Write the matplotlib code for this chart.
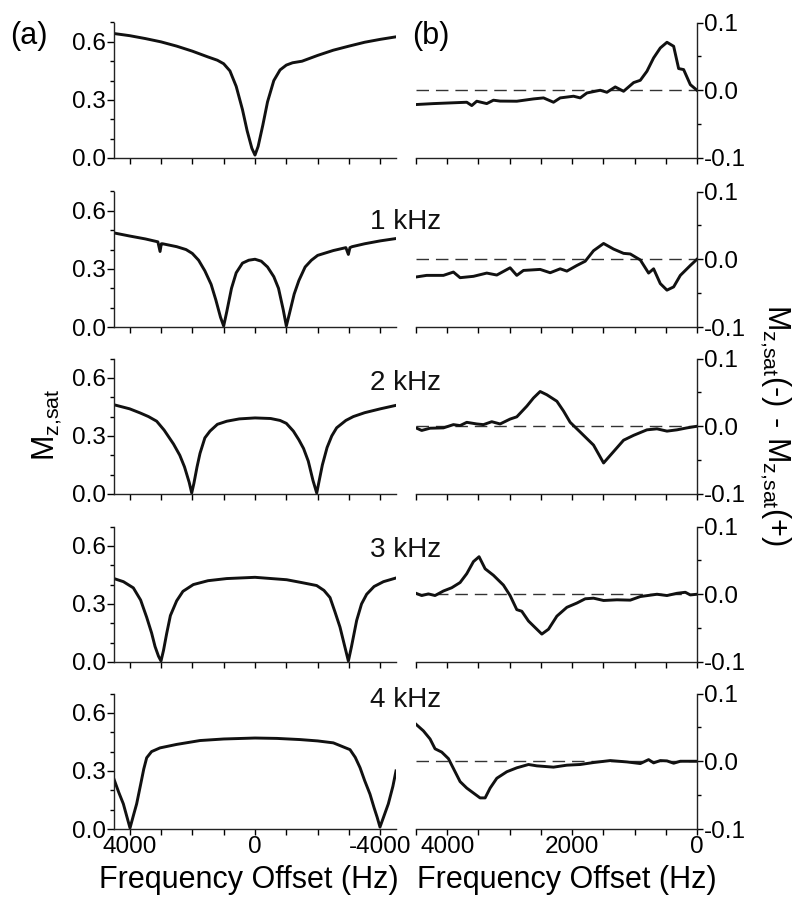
import matplotlib
matplotlib.use("Agg")
import matplotlib.pyplot as plt
from matplotlib.ticker import MultipleLocator, FixedLocator, FixedFormatter

plt.rcParams['font.family'] = ['Liberation Sans', 'DejaVu Sans']
plt.rcParams['mathtext.fontset'] = 'custom'
plt.rcParams['mathtext.rm'] = 'Liberation Sans'
plt.rcParams['axes.unicode_minus'] = False

# ---------------- data: panel (a) saturation spectra ----------------
a0_x = [4500, 4000, 3500, 3000, 2500, 2000, 1500, 1200, 1000, 800, 600, 400, 250, 100, 0,
        -100, -250, -400, -600, -800, -1000, -1200, -1500, -2000, -2500, -3000, -3500, -4000, -4500]
a0_y = [0.643, 0.632, 0.617, 0.600, 0.578, 0.552, 0.522, 0.505, 0.487, 0.450, 0.37, 0.25, 0.14, 0.05, 0.015,
        0.06, 0.17, 0.29, 0.40, 0.455, 0.48, 0.492, 0.50, 0.53, 0.557, 0.578, 0.598, 0.613, 0.626]

a1_x = [4500, 4000, 3500, 3100, 3030, 2990, 2950, 2500, 2200, 2000, 1800, 1600, 1400, 1250, 1100, 1000,
        900, 750, 600, 400, 200, 0, -200, -400, -600, -750, -900, -1000, -1100, -1250, -1400, -1600,
        -1800, -2000, -2500, -2900, -2980, -3030, -3100, -3500, -4000, -4500]
a1_y = [0.486, 0.47, 0.455, 0.44, 0.39, 0.43, 0.43, 0.415, 0.40, 0.38, 0.345, 0.29, 0.22, 0.14, 0.05, 0.005,
        0.08, 0.20, 0.28, 0.33, 0.345, 0.35, 0.34, 0.31, 0.26, 0.20, 0.09, 0.005, 0.07, 0.17, 0.24, 0.31,
        0.345, 0.37, 0.395, 0.41, 0.375, 0.41, 0.415, 0.43, 0.445, 0.457]

a2_x = [4500, 4000, 3670, 3400, 3138, 2900, 2600, 2400, 2250, 2100, 2020, 1950, 1850, 1755, 1600, 1436,
        1200, 900, 500, 0, -500, -800, -1000, -1224, -1400, -1550, -1700, -1850, -1970, -2050, -2150,
        -2300, -2450, -2606, -2900, -3138, -3500, -4000, -4500]
a2_y = [0.461, 0.44, 0.419, 0.40, 0.376, 0.33, 0.258, 0.20, 0.14, 0.06, 0.005, 0.055, 0.14, 0.21, 0.29, 0.325,
        0.36, 0.376, 0.388, 0.393, 0.39, 0.38, 0.365, 0.325, 0.28, 0.235, 0.17, 0.07, 0.005, 0.07, 0.15,
        0.24, 0.30, 0.342, 0.38, 0.40, 0.42, 0.44, 0.458]

a3_x = [4500, 4200, 3883, 3650, 3457, 3300, 3190, 3080, 3000, 2920, 2819, 2700, 2500, 2300, 1968, 1500,
        904, 0, -1011, -1500, -1968, -2200, -2394, -2550, -2713, -2850, -2980, -3080, -3245, -3400,
        -3564, -3800, -4100, -4500]
a3_y = [0.431, 0.415, 0.383, 0.32, 0.231, 0.15, 0.08, 0.03, 0.005, 0.06, 0.147, 0.24, 0.316, 0.365, 0.40, 0.42,
        0.431, 0.4375, 0.425, 0.41, 0.395, 0.37, 0.333, 0.26, 0.18, 0.09, 0.005, 0.08, 0.215, 0.30,
        0.35, 0.39, 0.415, 0.434]

a4_x = [4500, 4350, 4202, 4100, 3989, 3880, 3777, 3650, 3550, 3457, 3300, 3032, 2500, 1755, 1000, 0,
        -700, -1437, -2000, -2500, -3032, -3200, -3352, -3500, -3670, -3800, -3900, -3989, -4100,
        -4255, -4400, -4500]
a4_y = [0.257, 0.19, 0.13, 0.07, 0.005, 0.07, 0.13, 0.23, 0.31, 0.368, 0.40, 0.419, 0.437, 0.457, 0.465, 0.47,
        0.468, 0.462, 0.455, 0.445, 0.41, 0.37, 0.317, 0.25, 0.18, 0.11, 0.06, 0.01, 0.06,
        0.13, 0.22, 0.30]

# ---------------- data: panel (b) asymmetry curves ----------------
b0_x = [4500, 4222, 3955, 3687, 3607, 3527, 3367, 3260, 3153, 2886, 2619, 2458, 2298, 2191, 1977, 1870,
        1763, 1550, 1443, 1309, 1176, 1015, 908, 802, 695, 588, 481, 374, 294, 214, 107, 0]
b0_y = [-0.0211, -0.0197, -0.0187, -0.0177, -0.0226, -0.0162, -0.0197, -0.0147, -0.016, -0.0162, -0.0128,
        -0.0113, -0.0177, -0.0113, -0.0088, -0.0113, -0.004, 0.0, -0.003, 0.0049, -0.0015, 0.0113, 0.0147,
        0.028, 0.0477, 0.0624, 0.0708, 0.0649, 0.032, 0.0305, 0.0083, 0.0]

b1_x = [4500, 4329, 4061, 3901, 3794, 3580, 3367, 3206, 2993, 2886, 2779, 2512, 2351, 2191, 2084, 1924,
        1790, 1657, 1496, 1336, 1176, 1069, 908, 775, 695, 588, 481, 374, 267, 107, 0]
b1_y = [-0.0262, -0.0238, -0.0238, -0.0189, -0.0272, -0.0252, -0.0204, -0.0233, -0.0126, -0.0238, -0.0165,
        -0.015, -0.0199, -0.0141, -0.0175, -0.0092, -0.0029, 0.0126, 0.0233, 0.015, 0.0087, 0.0078, -0.001,
        -0.0204, -0.0141, -0.0359, -0.0456, -0.0408, -0.0238, -0.0092, 0.0]

b2_x = [4500, 4409, 4275, 4061, 3901, 3794, 3687, 3527, 3420, 3287, 3153, 2993, 2886, 2725, 2619, 2512,
        2405, 2244, 2138, 2031, 1870, 1657, 1496, 1336, 1176, 1015, 802, 641, 481, 321, 160, 0]
b2_y = [-0.0024, -0.0062, -0.0029, -0.0024, 0.0024, 0.001, 0.0058, 0.0034, 0.0024, 0.0067, 0.0034, 0.0106,
        0.0139, 0.0297, 0.0417, 0.0513, 0.0465, 0.0369, 0.0225, 0.0058, -0.0086, -0.0278, -0.0542, -0.0374,
        -0.0206, -0.0134, -0.0053, -0.0038, -0.0072, -0.0053, -0.0024, 0.0]

b3_x = [4500, 4409, 4302, 4195, 4061, 3928, 3794, 3687, 3580, 3490, 3393, 3260, 3100, 2993, 2886, 2806,
        2699, 2592, 2485, 2378, 2244, 2084, 1924, 1790, 1657, 1496, 1283, 1069, 908, 641, 481, 321, 187,
        107, 0]
b3_y = [0.0014, -0.0019, 0.0005, -0.0019, 0.0048, 0.0096, 0.0173, 0.0304, 0.0482, 0.0554, 0.0376, 0.028,
        0.0135, -0.0019, -0.0227, -0.0251, -0.0395, -0.0492, -0.0588, -0.0516, -0.0323, -0.0193, -0.013,
        -0.0067, -0.0058, -0.0092, -0.0082, -0.0087, -0.0034, 0.0, -0.0019, 0.0014, 0.0029, -0.001, 0.0]

b4_x = [4500, 4382, 4275, 4195, 4088, 3981, 3901, 3794, 3687, 3580, 3474, 3393, 3313, 3206, 3046, 2886,
        2699, 2565, 2298, 2084, 1870, 1657, 1389, 1122, 908, 775, 695, 588, 481, 374, 267, 0]
b4_y = [0.0546, 0.0449, 0.0329, 0.0184, 0.0135, 0.0039, -0.0106, -0.03, -0.0396, -0.0469, -0.0541, -0.0541,
        -0.0396, -0.0251, -0.0155, -0.0097, -0.0048, -0.0068, -0.0087, -0.0058, -0.0048, -0.0019, 0.001,
        -0.001, -0.0034, 0.0024, -0.0024, 0.001, 0.0005, -0.0029, 0.0, 0.0]

a_x = [a0_x, a1_x, a2_x, a3_x, a4_x]
a_y = [a0_y, a1_y, a2_y, a3_y, a4_y]
b_x = [b0_x, b1_x, b2_x, b3_x, b4_x]
b_y = [b0_y, b1_y, b2_y, b3_y, b4_y]
panel_labels = [None, "1 kHz", "2 kHz", "3 kHz", "4 kHz"]

a_yticks = [0.0, 0.3, 0.6]
a_yticklabels = ["0.0", "0.3", "0.6"]
a_xticks = [4000, 0, -4000]
a_xticklabels = ["4000", "0", "-4000"]
b_yticks = [-0.1, 0.0, 0.1]
b_yticklabels = ["-0.1", "0.0", "0.1"]
b_xticks = [4000, 2000, 0]
b_xticklabels = ["4000", "2000", "0"]

# ---------------- figure ----------------
W, H = 800, 908
fig = plt.figure(figsize=(W / 100, H / 100), dpi=100)

bottoms_px = [158, 327, 494, 662, 829]
h_px = 135.5
lx0, lw = 114, 282
rx0, rw = 416, 281
LW = 2.1
SPW = 1.0
TICKFS = 17.5

for i in range(5):
    b = 1 - bottoms_px[i] / H
    h = h_px / H
    axl = fig.add_axes([lx0 / W, b, lw / W, h])
    axr = fig.add_axes([rx0 / W, b, rw / W, h])

    # left panel
    axl.plot(a_x[i], a_y[i], color='#111111', lw=LW, solid_joinstyle='round')
    axl.set_xlim(4500, -4500)
    axl.set_ylim(0, 0.7)
    for s in ['top', 'right']:
        axl.spines[s].set_visible(False)
    for s in ['left', 'bottom']:
        axl.spines[s].set_linewidth(SPW)
        axl.spines[s].set_color('#222222')
    axl.yaxis.set_major_locator(FixedLocator(a_yticks))
    axl.yaxis.set_major_formatter(FixedFormatter(a_yticklabels))
    axl.yaxis.set_minor_locator(MultipleLocator(0.1))
    axl.xaxis.set_major_locator(FixedLocator(a_xticks))
    axl.xaxis.set_minor_locator(MultipleLocator(1000))
    if i == 4:
        axl.xaxis.set_major_formatter(FixedFormatter(a_xticklabels))
    else:
        axl.set_xticklabels([])
    axl.tick_params(axis='y', which='major', direction='out', length=5, width=1, labelsize=TICKFS, pad=1)
    axl.tick_params(axis='y', which='minor', direction='out', length=3, width=1)
    axl.tick_params(axis='x', which='both', direction='out', length=4, width=1, labelsize=TICKFS, pad=1)

    # right panel
    axr.plot(b_x[i], b_y[i], color='#111111', lw=LW, solid_joinstyle='round')
    axr.axhline(0, color='#333333', lw=1.0, linestyle=(0, (9, 5)), zorder=1)
    axr.set_xlim(4500, 0)
    axr.set_ylim(-0.1, 0.1)
    for s in ['top', 'left']:
        axr.spines[s].set_visible(False)
    for s in ['right', 'bottom']:
        axr.spines[s].set_linewidth(SPW)
        axr.spines[s].set_color('#222222')
    axr.yaxis.tick_right()
    axr.yaxis.set_major_locator(FixedLocator(b_yticks))
    axr.yaxis.set_major_formatter(FixedFormatter(b_yticklabels))
    axr.yaxis.set_minor_locator(MultipleLocator(0.05))
    axr.xaxis.set_major_locator(FixedLocator(b_xticks))
    axr.xaxis.set_minor_locator(MultipleLocator(500))
    if i == 4:
        axr.xaxis.set_major_formatter(FixedFormatter(b_xticklabels))
    else:
        axr.set_xticklabels([])
    axr.tick_params(axis='y', which='major', direction='out', length=4, width=1, labelsize=TICKFS, pad=1)
    axr.tick_params(axis='y', which='minor', direction='out', length=3, width=1)
    axr.tick_params(axis='x', which='both', direction='out', length=4, width=1, labelsize=TICKFS, pad=1)

# panel annotations
label_baselines = [None, 229, 390, 557, 707]
for i in range(1, 5):
    fig.text(370 / W, 1 - label_baselines[i] / H, panel_labels[i], fontsize=20,
             ha='left', va='baseline', color='#111111')

fig.text(10 / W, 1 - 44 / H, "(a)", fontsize=22, ha='left', va='baseline')
fig.text(412 / W, 1 - 44 / H, "(b)", fontsize=22, ha='left', va='baseline')

fig.text(249 / W, 1 - 888 / H, "Frequency Offset (Hz)", fontsize=22, ha='center', va='baseline')
fig.text(567 / W, 1 - 888 / H, "Frequency Offset (Hz)", fontsize=22, ha='center', va='baseline')

fig.text(47 / W, 1 - 425 / H, r"$\mathregular{M_{z{,}sat}}$", fontsize=22, rotation=90,
         ha='center', va='center')
fig.text(775 / W, 1 - 425 / H, r"$\mathregular{M_{z{,}sat}(\text{-})\ \text{-}\ M_{z{,}sat}(+)}$",
         fontsize=22, rotation=-90, ha='center', va='center')

fig.savefig("out.png", dpi=100)
